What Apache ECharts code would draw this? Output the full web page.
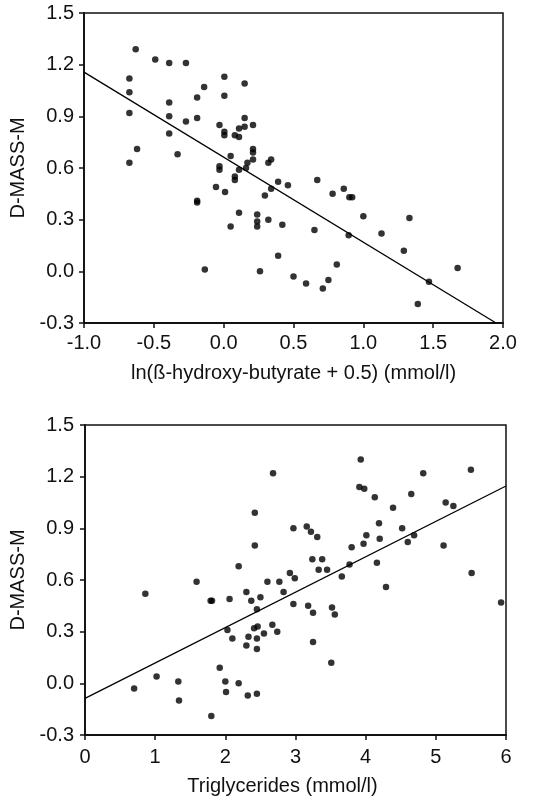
<!DOCTYPE html>
<html>
<head>
<meta charset="utf-8">
<script src="https://cdn.jsdelivr.net/npm/echarts@6/dist/echarts.min.js"></script>
<style>
html,body{margin:0;padding:0;background:#fff;}
#c{width:540px;height:797px;}
</style>
</head>
<body>
<div id="c"></div>
<script>
// Top panel: ln(beta-hydroxy-butyrate + 0.5) vs D-MASS-M
const hbX = [-0.63,-0.49,-0.39,-0.27,-0.675,-0.675,-0.675,-0.675,-0.62,-0.39,-0.39,-0.39,-0.33,-0.27,-0.19,-0.14,-0.19,-0.19,-0.19,-0.135,
  0.005,0.005,-0.03,0.005,0.005,-0.03,-0.03,-0.055,0.01,0.05,0.05,0.08,0.11,0.11,0.08,0.08,0.11,0.15,0.15,0.15,0.16,0.17,0.11,0.21,0.21,0.21,0.21,
  0.24,0.24,0.24,0.26,0.295,0.32,0.34,0.32,0.34,0.39,0.39,0.42,0.46,0.50,0.59,0.65,0.67,0.71,0.75,0.78,0.81,0.86,0.90,0.92,0.895,
  1.00,1.13,1.29,1.33,1.39,1.47,1.675];
const hbY = [1.29,1.23,1.21,1.21,1.12,1.04,0.92,0.63,0.71,0.98,0.90,0.80,0.68,0.87,1.01,1.07,0.89,0.41,0.40,0.01,
  1.13,1.02,0.85,0.81,0.79,0.61,0.59,0.49,0.46,0.67,0.26,0.79,0.83,0.78,0.55,0.53,0.59,1.09,0.89,0.84,0.60,0.63,0.34,0.85,0.71,0.69,0.65,
  0.33,0.29,0.26,0.00,0.44,0.63,0.65,0.30,0.48,0.52,0.09,0.27,0.50,-0.03,-0.07,0.24,0.53,-0.10,-0.05,0.45,0.04,0.48,0.43,0.43,0.21,
  0.32,0.22,0.12,0.31,-0.19,-0.06,0.02];
const hbLineX = [-1.0, 1.95];
const hbLineY = [1.157, -0.3];

// Bottom panel: Triglycerides vs D-MASS-M
const tgX = [0.70,0.86,1.02,1.33,1.34,1.59,1.79,1.81,1.80,1.92,2.00,2.01,2.03,2.06,2.10,2.19,2.19,2.30,2.30,2.33,2.32,2.37,2.41,2.42,2.42,2.45,2.45,2.46,2.45,2.45,
  2.50,2.55,2.60,2.67,2.68,2.74,2.77,2.83,2.92,2.97,2.97,2.99,3.16,3.18,3.22,3.24,3.25,3.25,3.31,3.33,3.38,3.45,3.51,3.52,3.56,3.66,3.77,3.80,
  3.93,3.91,3.98,3.97,4.01,4.13,4.16,4.19,4.20,4.29,4.39,4.52,4.60,4.65,4.69,4.82,5.11,5.14,5.25,5.50,5.51,5.93];
const tgY = [-0.03,0.52,0.04,0.01,-0.10,0.59,0.48,0.48,-0.19,0.09,0.01,-0.05,0.31,0.49,0.26,0.68,0.00,0.53,0.22,0.27,-0.07,0.48,0.32,0.99,0.80,0.43,0.26,0.33,0.20,-0.06,
  0.50,0.29,0.59,0.34,1.22,0.30,0.59,0.53,0.64,0.90,0.46,0.61,0.91,0.45,0.88,0.72,0.41,0.24,0.85,0.66,0.72,0.66,0.12,0.44,0.40,0.62,0.69,0.79,
  1.30,1.14,1.13,0.81,0.86,1.08,0.70,0.93,0.84,0.56,1.02,0.90,0.82,1.10,0.86,1.22,0.80,1.05,1.03,1.24,0.64,0.47];
const tgLineX = [0, 6];
const tgLineY = [-0.087, 1.146];

const FONT = '"Liberation Sans", Arial, Helvetica, sans-serif';
const FS = 20;
const zip = (a, b) => a.map((v, i) => [v, b[i]]);

function xAx(idx, min, max, interval, name, dec, margin, gap, namePad) {
  return {
    gridIndex: idx, type: 'value', min, max, interval,
    name, nameLocation: 'middle', nameGap: gap,
    nameTextStyle: { fontFamily: FONT, fontSize: FS, color: '#111', padding: namePad },
    axisLine: { show: true, onZero: false, lineStyle: { color: '#111', width: 1.8 } },
    axisTick: { show: true, inside: false, length: 5, lineStyle: { color: '#111', width: 1.5 } },
    axisLabel: { fontFamily: FONT, fontSize: FS, color: '#111', margin,
      formatter: v => v.toFixed(dec), showMinLabel: true, showMaxLabel: true },
    splitLine: { show: false }
  };
}
function yAx(idx, margin, gap) {
  return {
    gridIndex: idx, type: 'value', min: -0.3, max: 1.5, interval: 0.3,
    name: 'D-MASS-M', nameLocation: 'middle', nameGap: gap, nameRotate: 90,
    nameTextStyle: { fontFamily: FONT, fontSize: FS, color: '#111' },
    axisLine: { show: true, onZero: false, lineStyle: { color: '#111', width: 1.8 } },
    axisTick: { show: true, inside: false, length: 5, lineStyle: { color: '#111', width: 1.5 } },
    axisLabel: { fontFamily: FONT, fontSize: FS, color: '#111', margin,
      formatter: v => { const s = v.toFixed(1); return s === '-0.0' ? '0.0' : s; },
      showMinLabel: true, showMaxLabel: true },
    splitLine: { show: false }
  };
}

const chart = echarts.init(document.getElementById('c'), null, { renderer: 'canvas' });
chart.setOption({
  animation: false,
  backgroundColor: '#fff',
  grid: [
    { left: 84, right: 37, top: 13, height: 310, show: true, borderColor: '#111', borderWidth: 1.5, backgroundColor: 'transparent' },
    { left: 85, right: 34, top: 425, height: 310, show: true, borderColor: '#111', borderWidth: 1.5, backgroundColor: 'transparent' }
  ],
  xAxis: [
    xAx(0, -1, 2, 0.5, 'ln(\u00DF-hydroxy-butyrate + 0.5) (mmol/l)', 1, 10, 40, [0, 0, 0, 0]),
    xAx(1, 0, 6, 1, 'Triglycerides (mmol/l)', 0, 12, 41, [0, 26, 0, 0])
  ],
  yAxis: [yAx(0, 10, 51), yAx(1, 11, 51)],
  series: [
    { type: 'scatter', xAxisIndex: 0, yAxisIndex: 0, data: zip(hbX, hbY), symbolSize: 6.5,
      itemStyle: { color: '#000' } },
    { type: 'line', xAxisIndex: 0, yAxisIndex: 0, data: zip(hbLineX, hbLineY), symbol: 'none',
      lineStyle: { color: '#000', width: 1.3 } },
    { type: 'scatter', xAxisIndex: 1, yAxisIndex: 1, data: zip(tgX, tgY), symbolSize: 6.5,
      itemStyle: { color: '#000' } },
    { type: 'line', xAxisIndex: 1, yAxisIndex: 1, data: zip(tgLineX, tgLineY), symbol: 'none',
      lineStyle: { color: '#000', width: 1.3 } }
  ]
});
</script>
</body>
</html>
